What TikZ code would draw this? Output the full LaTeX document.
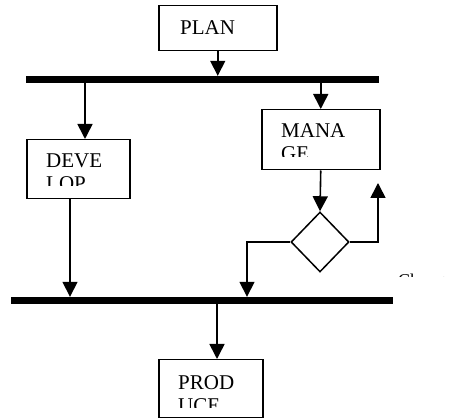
\documentclass[tikz,border=0pt]{standalone}
\usepackage{fontspec}
\setmainfont{Liberation Serif}
\usetikzlibrary{arrows.meta,shapes.geometric}
\begin{document}
\begin{tikzpicture}[x=1pt,y=-1pt,
  box/.style={draw, line width=1.5pt, rectangle, inner sep=0pt, anchor=north west},
  bar/.style={fill=black, rectangle, inner sep=0pt, minimum height=7pt},
  conn/.style={line width=1.6pt, -{Triangle[length=15pt,width=15pt]}},
  lbl/.style={font=\fontsize{21}{25}\selectfont, anchor=base west, inner sep=0pt}
]
\useasboundingbox (0,0) rectangle (456,419);
% boxes
\node[box, minimum width=118pt, minimum height=45pt] (plan) at (158,5) {};
\node[box, minimum width=103pt, minimum height=59pt] (develop) at (26,139) {};
\node[box, minimum width=118pt, minimum height=60pt] (manage) at (261,109) {};
\node[box, minimum width=104pt, minimum height=58pt] (produce) at (158,359) {};
\node[draw, line width=1.5pt, diamond, inner sep=0pt, minimum width=58pt, minimum height=60pt] (dia) at (320,242) {};
% bars
\node[bar, minimum width=353pt] (topbar) at (202.5,79.5) {};
\node[bar, minimum width=382pt] (botbar) at (202,300.5) {};
% labels
\node[lbl] (tplan) at (180,35) {PLAN};
\begin{scope}
  \clip (26,139) rectangle (129,186);
  \node[lbl] (tdev1) at (46,168) {DEVE};
  \node[lbl] (tdev2) at (46,191) {LOP};
\end{scope}
\begin{scope}
  \clip (261,109) rectangle (379,157);
  \node[lbl] (tman1) at (281,138) {MANA};
  \node[lbl] (tman2) at (281,161) {GE};
\end{scope}
\begin{scope}
  \clip (158,359) rectangle (262,408);
  \node[lbl] (tpro1) at (178,390) {PROD};
  \node[lbl] (tpro2) at (178,413) {UCE};
\end{scope}
\begin{scope}
  \clip (390,255) rectangle (456,277);
  \node[lbl, font=\fontsize{18}{22}\selectfont] (tchange) at (398,287) {Change};
\end{scope}
% connectors
\coordinate (lj) at (247,242);
\coordinate (rj) at (378,242);
\coordinate (rend) at (378,183);
\draw[conn] (plan.south) -- (plan.south |- topbar.north);
\draw[conn] ([xshift=59pt]develop.north west |- topbar.south) -- ([xshift=59pt]develop.north west);
\draw[conn] (manage.north |- topbar.south) -- (manage.north);
\draw[conn] (manage.south) -- (dia.north);
\draw[conn] ([xshift=44pt]develop.south west) -- ([xshift=44pt]develop.south west |- botbar.north);
\draw[conn] (dia.west) -- (lj) -- (lj |- botbar.north);
\draw[conn] (dia.east) -- (rj) -- (rend);
\draw[conn] ([xshift=59pt]produce.north west |- botbar.south) -- ([xshift=59pt]produce.north west);
\end{tikzpicture}
\end{document}
